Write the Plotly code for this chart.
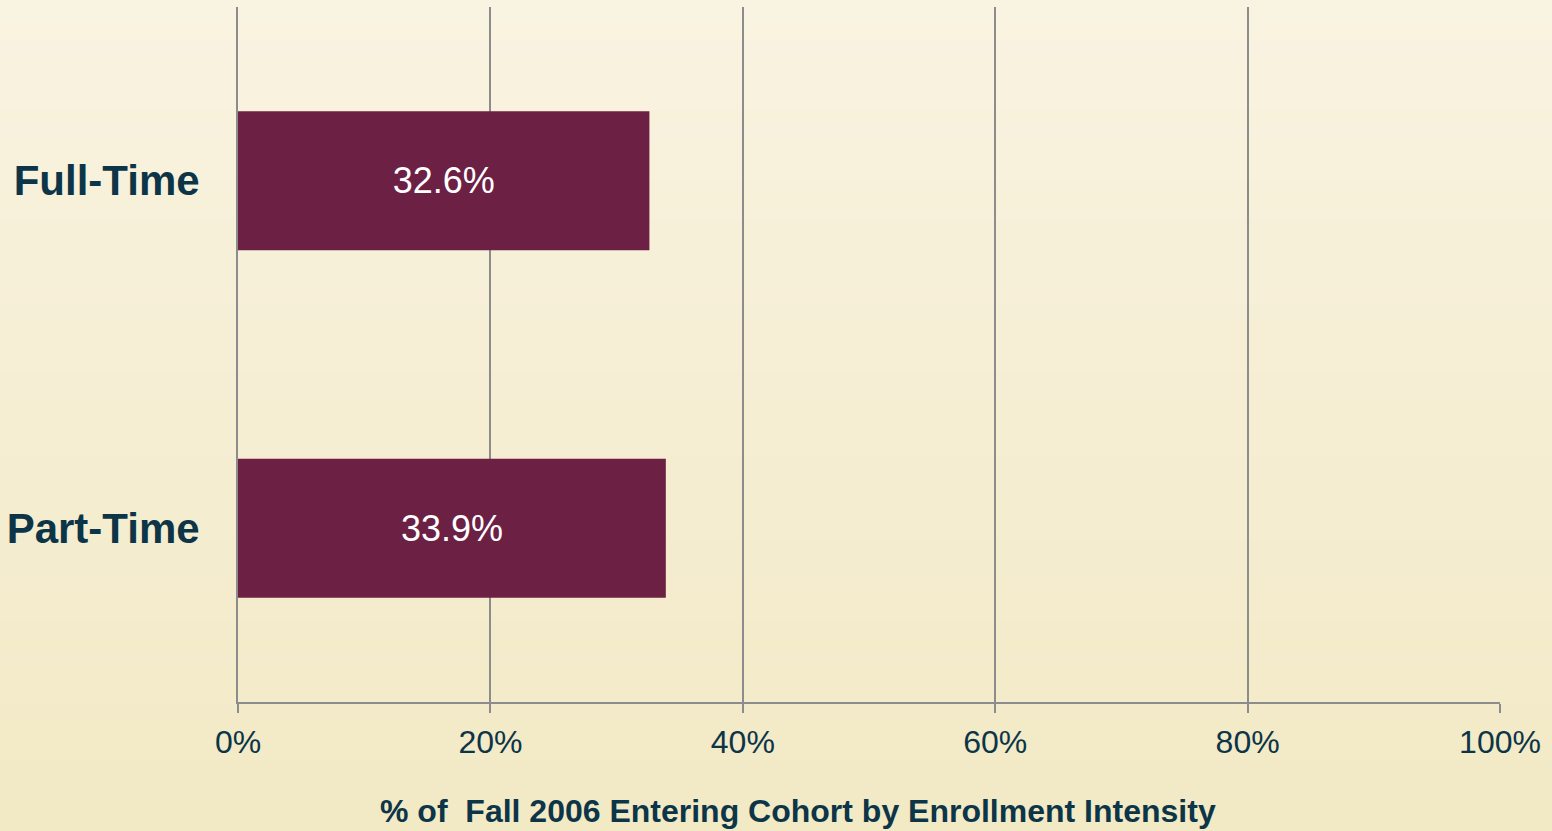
import plotly.graph_objects as go

categories = ["Full-Time", "Part-Time"]
values = [32.6, 33.9]
labels = ["32.6%", "33.9%"]
tick_vals = [0, 20, 40, 60, 80, 100]
tick_text = ["0%", "20%", "40%", "60%", "80%", "100%"]
x_title = "<b>% of  Fall 2006 Entering Cohort by Enrollment Intensity</b>"

W, H = 1552, 831
ml, mr, mt, mb = 238, 52, 7, 129
pw = W - ml - mr
ph = H - mt - mb

fig = go.Figure()
fig.add_trace(go.Bar(
    y=categories, x=values, orientation="h",
    marker=dict(color="#6b2044", line=dict(width=0)),
    text=labels, textposition="inside", insidetextanchor="middle",
    textfont=dict(family="Liberation Sans, Arial", size=36, color="#ffffff"),
    width=0.4, hoverinfo="skip",
))

# background gradient
top = (249, 243, 225)
bot = (242, 233, 197)
n = 60
shapes = []
y0p = -mb / ph
y1p = 1 + mt / ph
for i in range(n):
    t = i / (n - 1)
    c = tuple(round(top[k] + (bot[k] - top[k]) * t) for k in range(3))
    ya = y1p - (y1p - y0p) * i / n
    yb = y1p - (y1p - y0p) * (i + 1) / n
    shapes.append(dict(type="rect", xref="paper", yref="paper",
                       x0=-ml / pw - 0.01, x1=1 + mr / pw + 0.01,
                       y0=yb - 0.002, y1=ya + 0.002,
                       fillcolor="rgb(%d,%d,%d)" % c, line=dict(width=0), layer="below"))

fig.update_layout(
    width=W, height=H,
    margin=dict(l=ml, r=mr, t=mt, b=mb),
    paper_bgcolor="rgb(245,238,211)",
    plot_bgcolor="rgba(0,0,0,0)",
    shapes=shapes,
    showlegend=False,
    bargap=0.6,
    xaxis=dict(
        range=[0, 100], tickvals=tick_vals, ticktext=tick_text,
        showgrid=True, gridcolor="#8c8c8c", gridwidth=2,
        showline=True, linecolor="#8c8c8c", linewidth=2,
        ticks="outside", ticklen=9, tickwidth=2, tickcolor="#8c8c8c",
        ticklabelstandoff=2,
        tickfont=dict(family="Liberation Sans, Arial", size=32, color="#0d3548"),
        zeroline=False, fixedrange=True, layer="below traces", automargin=False,
    ),
    yaxis=dict(
        categoryorder="array", categoryarray=categories[::-1],
        showgrid=False, showline=True, linecolor="#8c8c8c", linewidth=2,
        zeroline=False, ticks="",
        ticklabelstandoff=28,
        tickfont=dict(family="Liberation Sans, Arial", size=42, color="#0d3548", weight="bold"),
        fixedrange=True, layer="below traces", automargin=False,
    ),
    annotations=[dict(
        text=x_title, xref="paper", yref="paper",
        x=(798 - ml) / pw, y=-(811 - (H - mb)) / ph,
        xanchor="center", yanchor="middle", showarrow=False,
        font=dict(family="Liberation Sans, Arial", size=32, color="#0d3548"),
    )],
    font=dict(family="Liberation Sans, Arial"),
)

fig.write_html("out.html", config={"displayModeBar": False},
               post_script="document.body.style.margin='0';document.body.style.overflow='hidden';")
